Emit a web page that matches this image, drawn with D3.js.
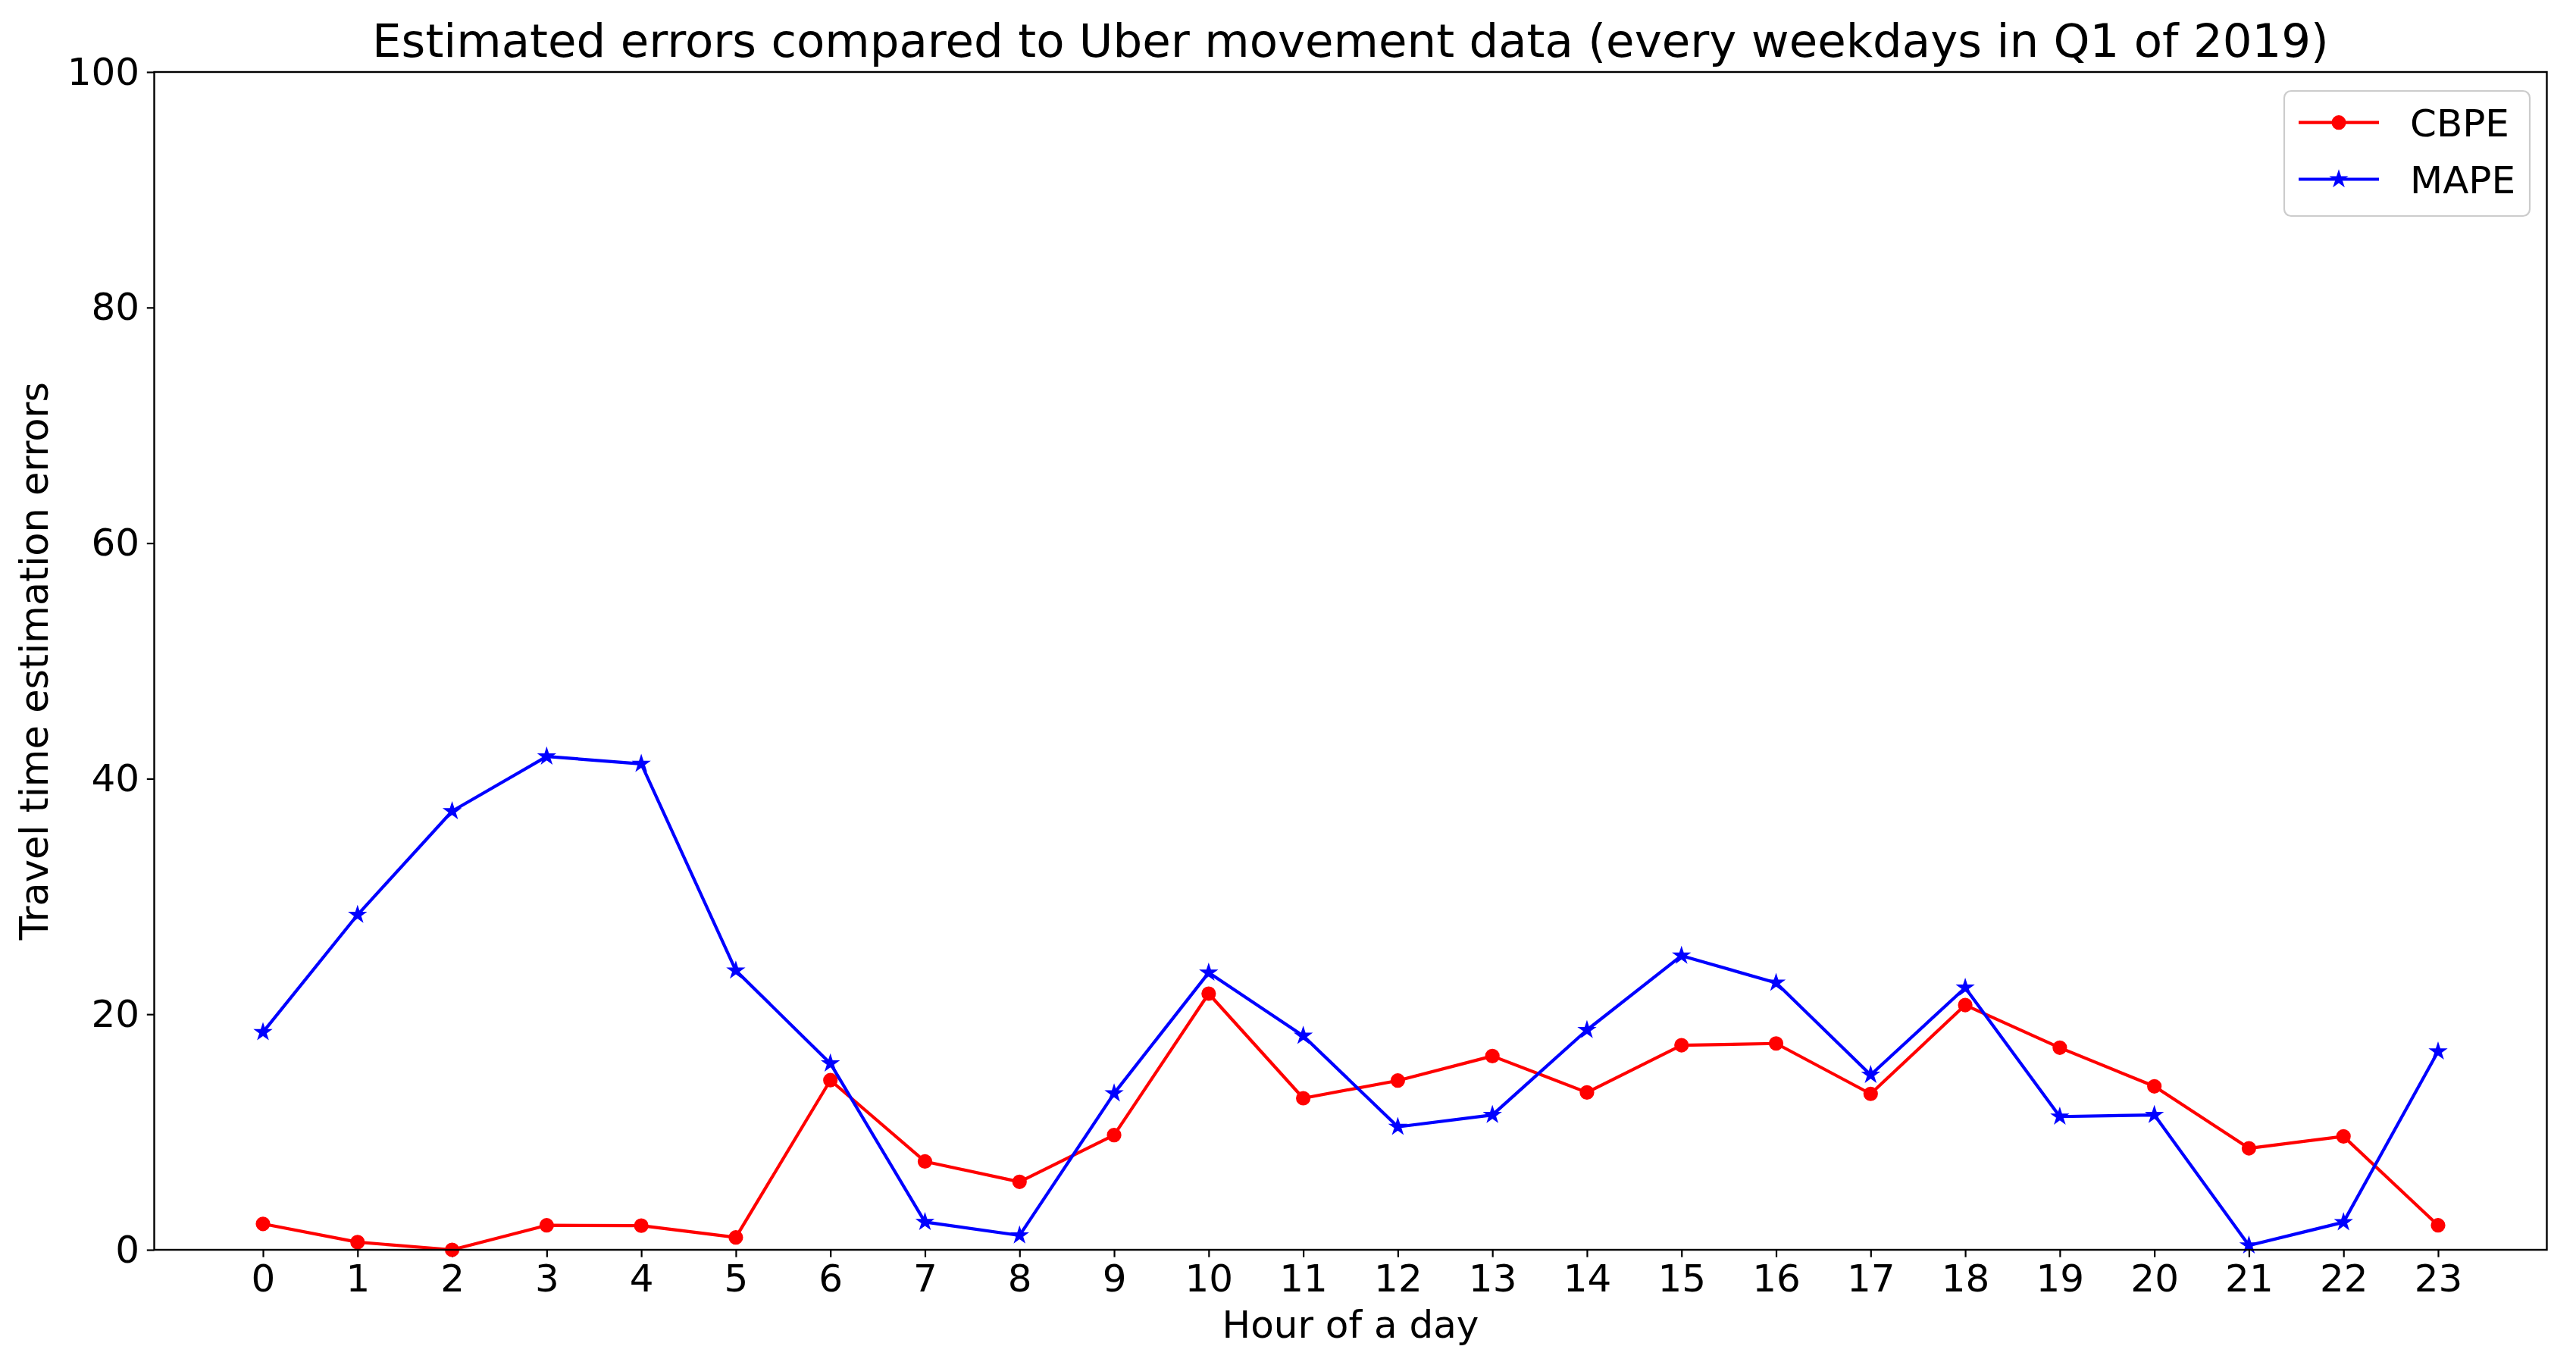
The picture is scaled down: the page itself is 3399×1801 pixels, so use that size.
<!DOCTYPE html>
<html>
<head>
<meta charset="utf-8">
<script src="https://cdn.jsdelivr.net/npm/d3@7"></script>
<style>
  html, body { margin: 0; padding: 0; background: #ffffff; }
  svg { display: block; font-family: "DejaVu Sans", sans-serif; }
</style>
</head>
<body>
<svg id="chart" width="3399" height="1801"></svg>
<script>
// ---- data ----
const hours = [0,1,2,3,4,5,6,7,8,9,10,11,12,13,14,15,16,17,18,19,20,21,22,23];
const cbpe = [2.2,0.65,0.0,2.08,2.05,1.05,14.4,7.5,5.77,9.74,21.75,12.87,14.37,16.45,13.36,17.37,17.52,13.24,20.78,17.16,13.88,8.62,9.63,2.08];
const mape = [18.48,28.44,37.24,41.88,41.26,23.71,15.82,2.36,1.22,13.28,23.53,18.17,10.44,11.45,18.66,24.97,22.67,14.85,22.25,11.31,11.45,0.37,2.34,16.84];
const yTicks = [0,20,40,60,80,100];
const seriesNames = ["CBPE","MAPE"];
const titleText = "Estimated errors compared to Uber movement data (every weekdays in Q1 of 2019)";
const xLabel = "Hour of a day";
const yLabel = "Travel time estimation errors";

// ---- layout ----
const L = 203.5, R = 3360.5, T = 95, B = 1649;
const svg = d3.select("#chart");
const x = d3.scaleLinear().domain([-1.15, 24.15]).range([L, R]);
const y = d3.scaleLinear().domain([0, 100]).range([B, T]);
const FS = 50;

// axes
const xAxis = svg.append("g").attr("transform", `translate(0,${B})`)
  .call(d3.axisBottom(x).tickValues(hours).tickFormat(d3.format("d")).tickSize(9.7).tickPadding(9.7));
const yAxis = svg.append("g").attr("transform", `translate(${L},0)`)
  .call(d3.axisLeft(y).tickValues(yTicks).tickFormat(d3.format("d")).tickSize(9.7).tickPadding(9.7));
[xAxis, yAxis].forEach(g => {
  g.select(".domain").remove();
  g.selectAll(".tick line").attr("stroke", "#000").attr("stroke-width", 2.2);
  g.selectAll(".tick text").attr("fill", "#000").style("font-size", FS + "px").style("font-family", "DejaVu Sans");
});

// lines
const line = d3.line().x((d, i) => x(hours[i])).y(d => y(d));
const star = d3.symbol().type(d3.symbolStar).size(100);

const gC = svg.append("g");
gC.append("path").datum(cbpe).attr("d", line).attr("fill", "none")
  .attr("stroke", "#ff0000").attr("stroke-width", 4.2).attr("stroke-linejoin", "round");
gC.selectAll("circle").data(cbpe).enter().append("circle")
  .attr("cx", (d, i) => x(hours[i])).attr("cy", d => y(d)).attr("r", 8.4)
  .attr("fill", "#ff0000").attr("stroke", "#ff0000").attr("stroke-width", 2.4);

const gM = svg.append("g");
gM.append("path").datum(mape).attr("d", line).attr("fill", "none")
  .attr("stroke", "#0000ff").attr("stroke-width", 4.2).attr("stroke-linejoin", "round");
gM.selectAll("path.star").data(mape).enter().append("path").attr("class", "star")
  .attr("d", star)
  .attr("transform", (d, i) => `translate(${x(hours[i])},${y(d)})`)
  .attr("fill", "#0000ff").attr("stroke", "#0000ff").attr("stroke-width", 2.4);

// frame
svg.append("rect").attr("x", L).attr("y", T).attr("width", R - L).attr("height", B - T)
  .attr("fill", "none").attr("stroke", "#000").attr("stroke-width", 2.4);

// title and labels
svg.append("text").attr("x", (L + R) / 2).attr("y", 75).attr("text-anchor", "middle")
  .style("font-size", "61px").attr("fill", "#000").text(titleText);
svg.append("text").attr("x", (L + R) / 2).attr("y", 1765).attr("text-anchor", "middle")
  .style("font-size", FS + "px").attr("fill", "#000").text(xLabel);
svg.append("text").attr("transform", `translate(63,${(T + B) / 2}) rotate(-90)`).attr("text-anchor", "middle")
  .style("font-size", "51px").attr("fill", "#000").text(yLabel);

// legend
const lg = svg.append("g");
lg.append("rect").attr("x", 3014).attr("y", 120).attr("width", 324).attr("height", 165)
  .attr("rx", 9).attr("fill", "#fff").attr("fill-opacity", 0.8)
  .attr("stroke", "#cccccc").attr("stroke-width", 2.2);
const legendRows = [
  { name: seriesNames[0], color: "#ff0000", y: 161.7, marker: "circle" },
  { name: seriesNames[1], color: "#0000ff", y: 236.5, marker: "star" }
];
legendRows.forEach(r => {
  lg.append("line").attr("x1", 3033).attr("x2", 3139).attr("y1", r.y).attr("y2", r.y)
    .attr("stroke", r.color).attr("stroke-width", 4.2);
  if (r.marker === "circle") {
    lg.append("circle").attr("cx", 3086).attr("cy", r.y).attr("r", 8.4)
      .attr("fill", r.color).attr("stroke", r.color).attr("stroke-width", 2.4);
  } else {
    lg.append("path").attr("d", star).attr("transform", `translate(3086,${r.y})`)
      .attr("fill", r.color).attr("stroke", r.color).attr("stroke-width", 2.4);
  }
  lg.append("text").attr("x", 3180).attr("y", r.y + 18.5).style("font-size", FS + "px")
    .attr("fill", "#000").text(r.name);
});
</script>
</body>
</html>
